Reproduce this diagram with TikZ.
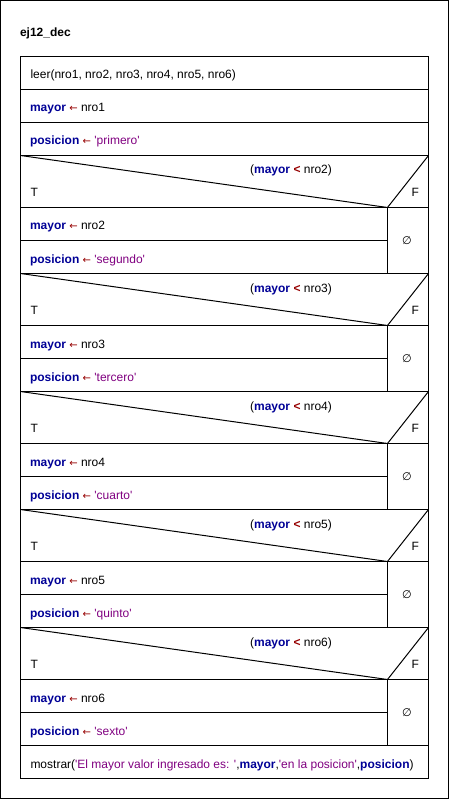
\documentclass[tikz,border=0pt]{standalone}
\usepackage{fontspec}
\setmainfont{Liberation Sans}[Ligatures=TeXOff]
\newfontfamily\djv{DejaVu Sans}
\definecolor{kwc}{RGB}{0,0,150}
\definecolor{opc}{RGB}{150,0,0}
\definecolor{strc}{RGB}{128,0,128}
\newcommand\kw[1]{\textcolor{kwc}{\textbf{#1}}}
\newcommand\asg{\textcolor{opc}{{\djv\fontsize{10}{12}\selectfont ←}}}
\newcommand\lt{\textcolor{opc}{\textbf{<}}}
\newcommand\str[1]{\textcolor{strc}{#1}}
\tikzset{
  txt/.style={inner sep=0pt, outer sep=0pt, font=\fontsize{12}{14}\selectfont, anchor=base west},
  ctxt/.style={txt, anchor=base},
  ln/.style={line width=1pt, black}
}
\begin{document}
\begin{tikzpicture}[x=1pt,y=-1pt]
\useasboundingbox (0,0) rectangle (449,799);
\draw[ln] (0.5,0.5) rectangle (448.5,798.5);
\node[txt, font=\fontsize{12}{14}\selectfont\bfseries] (title) at (20,36.5) {ej12\_dec};
\draw[ln] (20.5,56.5) rectangle (428.5,778.5);
\draw[ln] (20.5,89.5) -- (428.5,89.5);
\draw[ln] (20.5,122.5) -- (428.5,122.5);
\node[txt] (leer) at (30.5,79) {leer(nro1, nro2, nro3, nro4, nro5, nro6)};
\node[txt] (a1) at (30,112) {\kw{mayor} \asg\ nro1};
\node[txt] (p1) at (30,145) {\kw{posicion} \asg\ \str{'primero'}};
\foreach \i/\n/\s in {0/2/segundo,1/3/tercero,2/4/cuarto,3/5/quinto,4/6/sexto}{
  \pgfmathsetmacro\t{155.5+118*\i}
  \draw[ln] (20.5,\t) -- (428.5,\t);
  \draw[ln] (20.5,\t) -- (387.5,\t+52) -- (428.5,\t);
  \draw[ln] (20.5,\t+52) -- (428.5,\t+52);
  \draw[ln] (20.5,\t+85) -- (387.5,\t+85);
  \draw[ln] (387.5,\t+52) -- (387.5,\t+118);
  \node[ctxt] (c\i) at (291,\t+18.5) {(\kw{mayor} \lt\ nro\n)};
  \node[txt] (T\i) at (30.5,\t+41) {T};
  \node[txt] (F\i) at (411.5,\t+41) {F};
  \node[inner sep=0pt, font=\djv\fontsize{11}{13}\selectfont] (e\i) at (407,\t+85.5) {∅};
  \node[txt] (a\n) at (30,\t+52+22.5) {\kw{mayor} \asg\ nro\n};
  \node[txt] (p\n) at (30,\t+85+22.5) {\kw{posicion} \asg\ \str{'\s'}};
}
\draw[ln] (20.5,745.5) -- (428.5,745.5);
\node[txt] (m) at (30.5,768) {mostrar(\str{'El mayor valor ingresado es: '},\kw{mayor},\str{'en la posicion'},\kw{posicion})};
\end{tikzpicture}
\end{document}
